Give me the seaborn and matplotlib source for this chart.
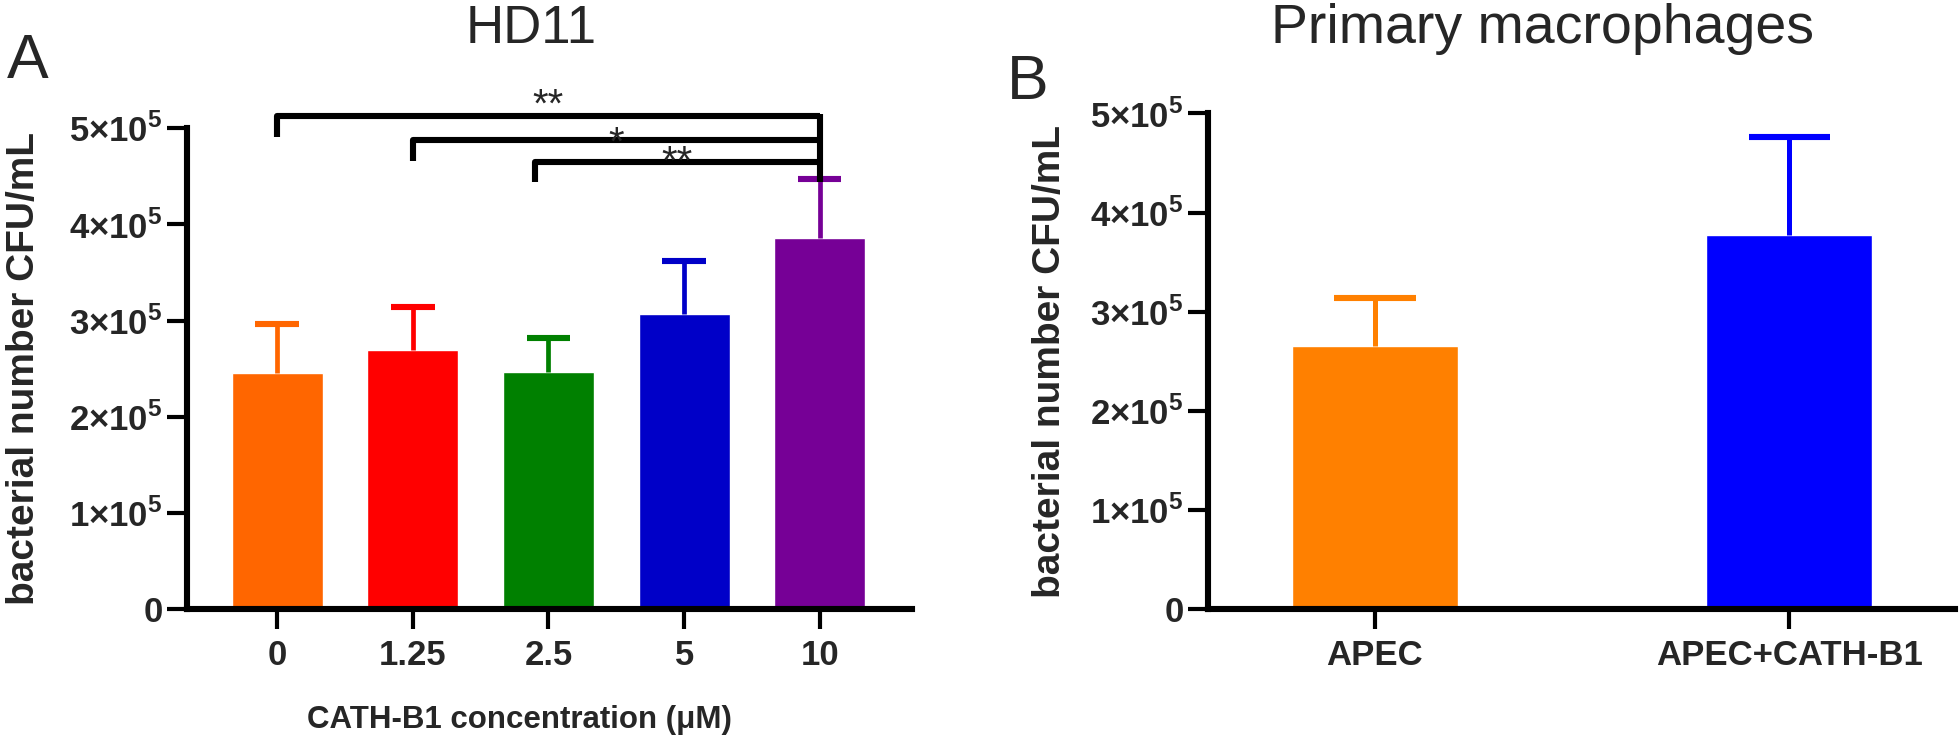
import numpy as np
import pandas as pd
import matplotlib
matplotlib.use('Agg')
import matplotlib.pyplot as plt
import seaborn as sns

sns.set_style('ticks')
plt.rcParams['font.family'] = ['Liberation Sans', 'DejaVu Sans']
plt.rcParams['mathtext.fontset'] = 'custom'
plt.rcParams['mathtext.rm'] = 'Liberation Sans'
plt.rcParams['mathtext.bf'] = 'Liberation Sans:bold'

# panel A - HD11
conc = ['0', '1.25', '2.5', '5', '10']
hd11_mean = [2.45e5, 2.69e5, 2.47e5, 3.07e5, 3.86e5]
hd11_sd = [0.51e5, 0.45e5, 0.35e5, 0.55e5, 0.615e5]
hd11_colors = ['#FF6600', '#FF0000', '#008000', '#0000C8', '#760096']
comparisons = [(0, 4, '**'), (1, 4, '*'), (2, 4, '**')]

# panel B - primary macrophages
groups = ['APEC', 'APEC+CATH-B1']
mac_mean = [2.65e5, 3.77e5]
mac_sd = [0.49e5, 0.99e5]
mac_colors = ['#FF8000', '#0000FF']

yticks = [0, 1e5, 2e5, 3e5, 4e5, 5e5]
ytick_labels = ['0'] + [f'{i}×10$^{{\\mathbf{{5}}}}$' for i in range(1, 6)]

LW = 4.4

fig = plt.figure(figsize=(19.6, 7.44), dpi=100)
axA = fig.add_axes([0.0954, 0.181, 0.3699, 0.647])
axB = fig.add_axes([0.6163, 0.181, 0.3811, 0.6667])


def style_axis(ax):
    ax.set_ylim(0, 5e5)
    ax.set_yticks(yticks)
    ax.set_yticklabels(ytick_labels, fontsize=25, fontweight='bold')
    for lab in ax.get_xticklabels():
        lab.set_fontsize(25)
        lab.set_fontweight('bold')
    sns.despine(ax=ax)
    for s in ['left', 'bottom']:
        ax.spines[s].set_linewidth(LW)
        ax.spines[s].set_color('black')
    ax.tick_params(axis='both', width=3, length=14.5, color='black')
    ax.tick_params(axis='y', pad=3)
    ax.tick_params(axis='x', pad=7)
    ax.set_ylabel('bacterial number CFU/mL', fontsize=28, fontweight='bold')


def error_bars(ax, means, sds, colors, half_cap, lw):
    x = np.arange(len(means))
    tops = np.array(means) + np.array(sds)
    ax.vlines(x, means, tops, colors=colors, lw=lw, zorder=1)
    ax.hlines(tops, x - half_cap, x + half_cap, colors=colors, lw=LW, zorder=1)


dfA = pd.DataFrame({'conc': conc, 'mean': hd11_mean})
sns.barplot(data=dfA, x='conc', y='mean', hue='conc', palette=hd11_colors,
            order=conc, hue_order=conc, width=0.67, saturation=1,
            legend=False, ax=axA)
error_bars(axA, hd11_mean, hd11_sd, hd11_colors, 0.16, 3.4)
axA.set_xlim(-0.665, 4.68)
style_axis(axA)
axA.yaxis.set_label_coords(-0.2, 0.5)
axA.set_xlabel('CATH-B1 concentration (μM)', fontsize=22.5, fontweight='bold')
axA.xaxis.set_label_coords(0.459, -0.23)
axA.xaxis.label.set_va('center')

# significance brackets
levels = [5.12e5, 4.87e5, 4.645e5]
left_shift = [0, 0, 0.1]
star_drop = [0, -10, -8.5]
drop = 0.21e5
for (a, b, star), h, sh, sd in zip(comparisons, levels, left_shift, star_drop):
    axA.plot([a - sh, a - sh, b], [h - drop, h, h], color='black', lw=LW,
             clip_on=False, solid_capstyle='butt')
    axA.annotate(star, ((a - sh + b) / 2, h), xytext=(0, sd),
                 textcoords='offset points', fontsize=29, ha='center',
                 va='baseline', annotation_clip=False)
axA.plot([4, 4], [levels[0] + 0.03e5, levels[-1] - drop], color='black',
         lw=LW, clip_on=False, solid_capstyle='butt')

dfB = pd.DataFrame({'group': groups, 'mean': mac_mean})
sns.barplot(data=dfB, x='group', y='mean', hue='group', palette=mac_colors,
            order=groups, hue_order=groups, width=0.4, saturation=1,
            legend=False, ax=axB)
error_bars(axB, mac_mean, mac_sd, mac_colors, 0.098, 3.6)
axB.set_xlim(-0.403, 1.40)
style_axis(axB)
axB.yaxis.set_label_coords(-0.187, 0.5)
axB.set_xlabel('')

fig.text(531 / 1960, 1 - 43 / 744, 'HD11', fontsize=38, ha='center',
         va='baseline')
fig.text(1542 / 1960, 1 - 43 / 744, 'Primary macrophages', fontsize=40,
         ha='center', va='baseline')
fig.text(28 / 1960, 1 - 78 / 744, 'A', fontsize=45, ha='center', va='baseline')
fig.text(1028 / 1960, 1 - 99 / 744, 'B', fontsize=45, ha='center', va='baseline')

fig.savefig('out.png', dpi=100)
